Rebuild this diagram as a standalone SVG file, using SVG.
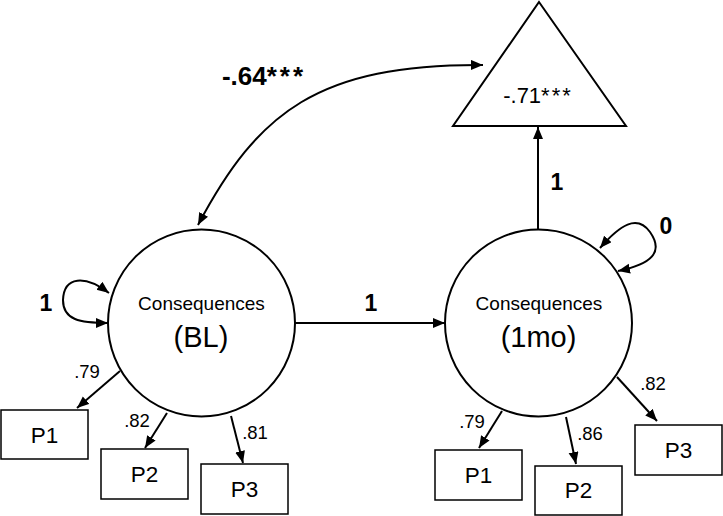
<svg xmlns="http://www.w3.org/2000/svg" width="723" height="516" viewBox="0 0 723 516">
<style>
  text { font-family: "Liberation Sans", Arial, sans-serif; fill: #000; text-anchor: middle; }
  .node { fill: #fff; stroke: #000; stroke-width: 2; }
  .box { fill: #fff; stroke: #000; stroke-width: 1.5; }
  .edge { fill: none; stroke: #000; stroke-width: 2; }
  .bold { font-weight: bold; font-size: 23px; }
  .load { font-size: 18.5px; }
  .ind { font-size: 22.5px; }
</style>
<defs>
  <marker id="ah" markerUnits="userSpaceOnUse" markerWidth="13" markerHeight="11" refX="12" refY="5" orient="auto-start-reverse" viewBox="0 0 13 11">
    <path d="M0,0 L12,5 L0,10 z" fill="#000"/>
  </marker>
</defs>
<rect width="723" height="516" fill="#fff"/>

<g id="connectors">
  <path class="edge" d="M198,225 C258,112 318,64 483,65" marker-start="url(#ah)" marker-end="url(#ah)"/>
  <path class="edge" d="M538,229 L538,127" marker-end="url(#ah)"/>
  <path class="edge" d="M295,323 L445,323" marker-end="url(#ah)"/>
  <path class="edge" d="M109,293 C85,275 64,276 63,300 C63,320 80,323 108,323" marker-start="url(#ah)" marker-end="url(#ah)"/>
  <path class="edge" d="M600,248 C620,225 637,214 650,232 C664,252 652,264 618,271" marker-start="url(#ah)" marker-end="url(#ah)"/>
  <path class="edge" d="M120,371 L77,408" marker-end="url(#ah)"/>
  <path class="edge" d="M167,413 L145,448" marker-end="url(#ah)"/>
  <path class="edge" d="M231,416 L243,463" marker-end="url(#ah)"/>
  <path class="edge" d="M502,411 L479,448" marker-end="url(#ah)"/>
  <path class="edge" d="M566,417 L576,464" marker-end="url(#ah)"/>
  <path class="edge" d="M617,377 L657,421" marker-end="url(#ah)"/>
</g>

<g id="labels">
  <text class="bold" x="264" y="85" style="font-size:26px">-.64<tspan letter-spacing="3">***</tspan></text>
  <text class="bold" x="557" y="190">1</text>
  <text class="bold" x="371" y="311">1</text>
  <text class="bold" x="46" y="311">1</text>
  <text class="bold" x="666" y="234">0</text>
  <text class="load" x="87" y="378">.79</text>
  <text class="load" x="137" y="427">.82</text>
  <text class="load" x="255" y="439">.81</text>
  <text class="load" x="472" y="428">.79</text>
  <text class="load" x="590" y="440">.86</text>
  <text class="load" x="653" y="390">.82</text>
</g>

<g id="intercept">
  <polygon class="node" points="539,2 626,126 453,126"/>
  <text x="538" y="103" style="font-size:22px">-.71<tspan letter-spacing="2">***</tspan></text>
</g>

<g id="consequences-bl">
  <circle class="node" cx="201.5" cy="323" r="93.5"/>
  <text x="201.5" y="310" style="font-size:19px">Consequences</text>
  <text x="201" y="347" style="font-size:29px">(BL)</text>
</g>

<g id="consequences-1mo">
  <circle class="node" cx="538.5" cy="323" r="93.5"/>
  <text x="539" y="310" style="font-size:19px">Consequences</text>
  <text x="538.5" y="347" style="font-size:29px">(1mo)</text>
</g>

<g id="bl-p1"><rect class="box" x="1" y="410" width="87" height="49"/><text class="ind" x="44.5" y="443">P1</text></g>
<g id="bl-p2"><rect class="box" x="101" y="449" width="87" height="50"/><text class="ind" x="144.5" y="482">P2</text></g>
<g id="bl-p3"><rect class="box" x="201" y="464" width="87" height="50"/><text class="ind" x="244.5" y="497">P3</text></g>
<g id="mo-p1"><rect class="box" x="435" y="450" width="87" height="50"/><text class="ind" x="478.5" y="483">P1</text></g>
<g id="mo-p2"><rect class="box" x="535" y="466" width="87" height="49"/><text class="ind" x="578.5" y="498">P2</text></g>
<g id="mo-p3"><rect class="box" x="635" y="425" width="87" height="50"/><text class="ind" x="678.5" y="458">P3</text></g>
</svg>
